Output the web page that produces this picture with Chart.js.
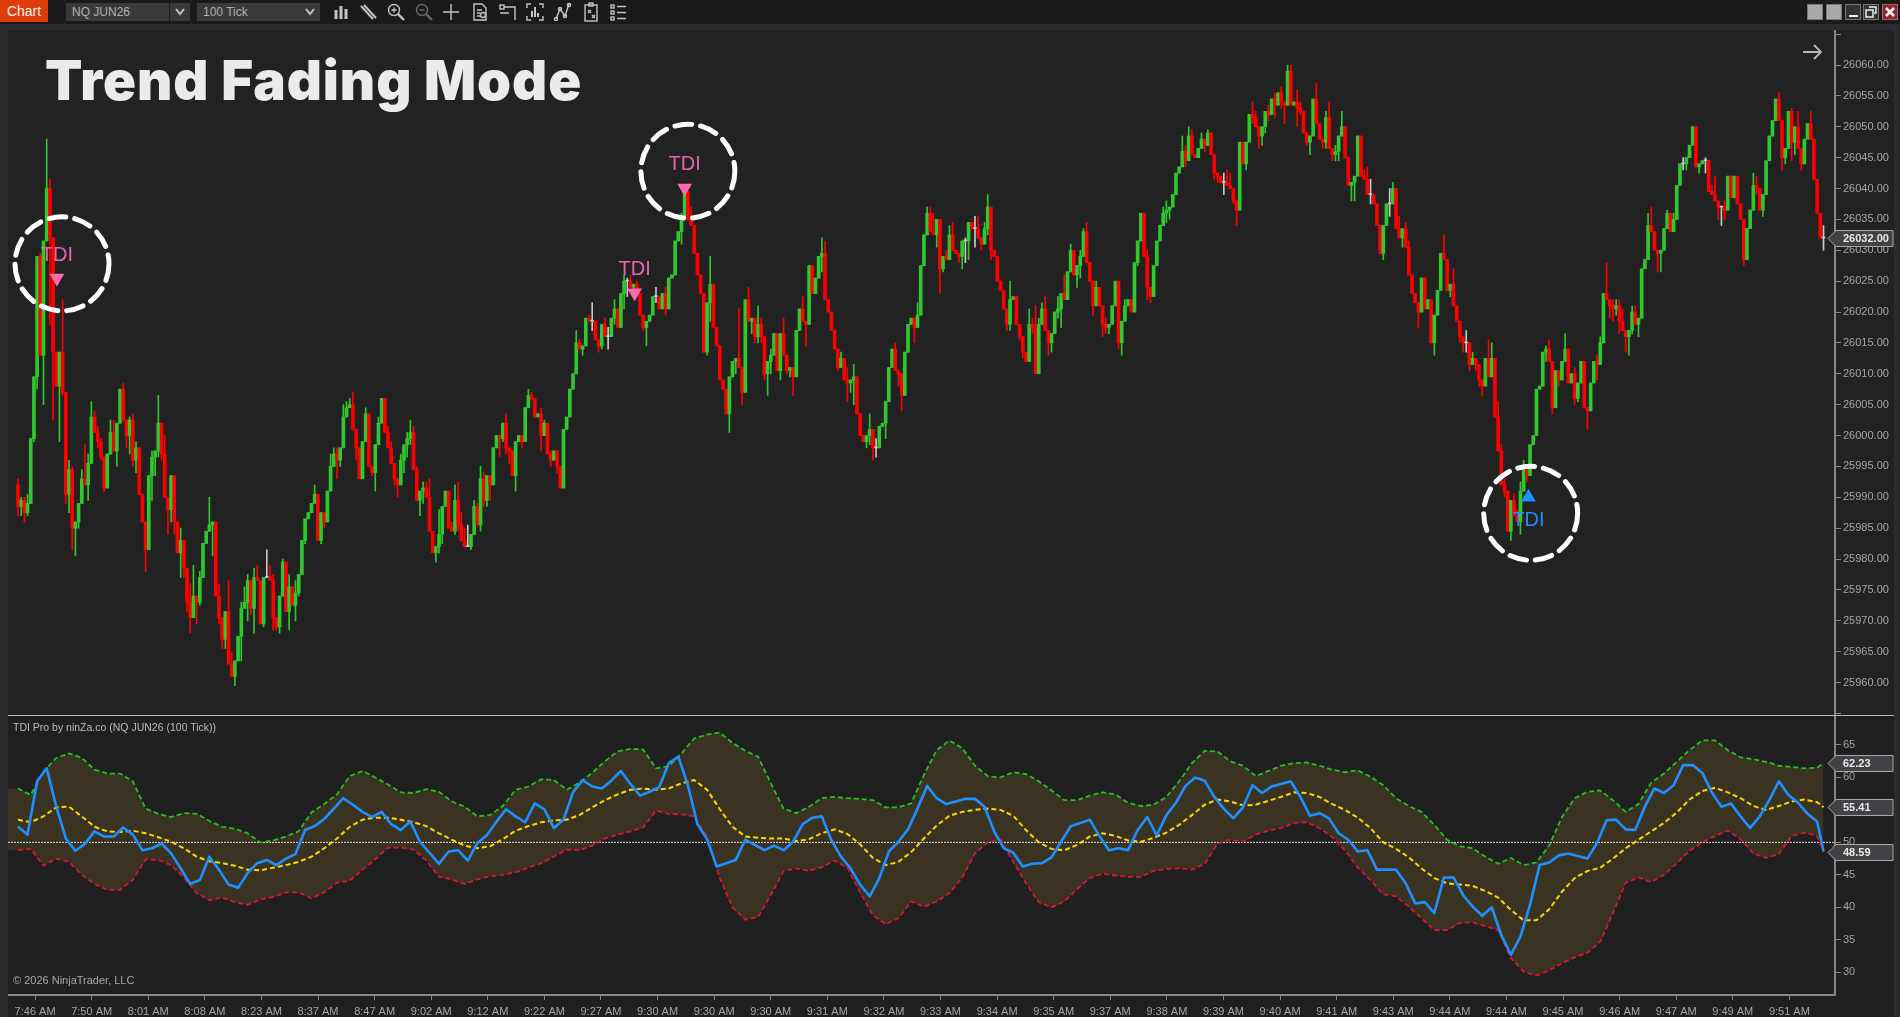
<!DOCTYPE html>
<html>
<head>
<meta charset="utf-8">
<title>Trend Fading Mode</title>
<script src="https://cdn.jsdelivr.net/npm/chart.js@4/dist/chart.umd.js"></script>
<style>
  html, body { margin: 0; padding: 0; background: #1c1c1c; overflow: hidden; }
  body { width: 1900px; height: 1017px; position: relative; font-family: "Liberation Sans", Arial, sans-serif; }
  canvas { position: absolute; display: block; }
  .abs { position: absolute; }
  #strip { left: 0; top: 0; width: 1900px; height: 24px; background: #1a1a1a; }
  #bevel { left: 0; top: 24px; width: 1900px; height: 993px; background: #2c2c2e; }
  #frame { left: 8px; top: 30px; width: 1886px; height: 987px; background: #222222; }
  #lower { left: 8px; top: 716px; width: 1886px; height: 301px; background: #202020; }
  #sep { left: 8px; top: 715px; width: 1886px; height: 1px; background: #b4b4b4; }
  #btn { left: 0; top: 0; width: 48px; height: 22px; background: #e03c08; color: #f4f4f4; font-size: 14px; line-height: 23px; text-align: center; }
  .drop { top: 3px; height: 18px; background: #3a3a3c; color: #b0b0b0; font-size: 12px; line-height: 19px; padding-left: 6px; box-sizing: border-box; }
  .chev { top: 3px; height: 18px; }
  .win { top: 4px; width: 16px; height: 16px; box-sizing: border-box; border: 1px solid #777; }
  #title { left: 45px; top: 45px; color: #ebebeb; font: 900 54.5px/70px Inter, sans-serif; white-space: nowrap; letter-spacing: 0.9px; }
  #legend { left: 13px; top: 721px; color: #bcbcbc; font-size: 10.5px; line-height: 12px; white-space: nowrap; }
  #copy { left: 13px; top: 974px; color: #a8a8a8; font-size: 11px; line-height: 13px; white-space: nowrap; }
  svg.ic { position: absolute; top: 2px; width: 20px; height: 20px; fill: none; stroke: #c4c4c4; stroke-width: 1.4; }
</style>
</head>
<body>
<div class="abs" id="strip"></div>
<div class="abs" id="bevel"></div>
<div class="abs" id="frame"></div>
<div class="abs" id="lower"></div>
<div class="abs" id="btn">Chart</div>
<div class="abs drop" style="left:66px;width:103px">NQ JUN26</div>
<div class="abs drop" style="left:170px;width:20px"></div>
<svg class="abs chev" style="left:170px;width:20px" viewBox="0 0 20 18"><path d="M6 6l4 5 4-5" fill="none" stroke="#c4c4c4" stroke-width="2"/></svg>
<div class="abs drop" style="left:197px;width:123px">100 Tick</div>
<svg class="abs chev" style="left:300px;width:20px" viewBox="0 0 20 18"><path d="M6 6l4 5 4-5" fill="none" stroke="#c4c4c4" stroke-width="2"/></svg>

<!-- toolbar icons -->
<svg class="ic" style="left:331px" viewBox="0 0 20 20"><path d="M5 8v9M10 4v13M15 7v10" stroke-width="3"/></svg>
<svg class="ic" style="left:358px" viewBox="0 0 20 20"><path d="M3 4l12 13M6 3l12 13" stroke-width="2"/></svg>
<svg class="ic" style="left:386px" viewBox="0 0 20 20"><circle cx="8" cy="8" r="5.5"/><path d="M12 12l6 6" stroke-width="2.4"/><path d="M5.5 8h5M8 5.5v5"/></svg>
<svg class="ic" style="left:414px;stroke:#6a6a6a" viewBox="0 0 20 20"><circle cx="8" cy="8" r="5.5"/><path d="M12 12l6 6" stroke-width="2.4"/><path d="M5.5 8h5"/></svg>
<svg class="ic" style="left:441px" viewBox="0 0 20 20"><path d="M10 2v16M2 10h16"/></svg>
<svg class="ic" style="left:470px" viewBox="0 0 20 20"><path d="M4 2h8l4 4v12H4zM7 8h5M7 11h3M7 14h3"/><circle cx="13" cy="13" r="2.5"/></svg>
<svg class="ic" style="left:497px" viewBox="0 0 20 20"><rect x="3" y="3" width="4" height="4"/><path d="M7 5h11v13M3 11h9"/></svg>
<svg class="ic" style="left:525px" viewBox="0 0 20 20"><path d="M2 6V2h4M14 2h4v4M2 14v4h4M14 18h4v-4"/><path d="M7 15V9M10 15V5M13 15v-4" stroke-width="2"/></svg>
<svg class="ic" style="left:552px" viewBox="0 0 20 20"><path d="M4 17L8 7l5 7 4-12"/><circle cx="4" cy="17" r="1.6"/><circle cx="8" cy="7" r="1.6"/><circle cx="13" cy="14" r="1.6"/><circle cx="17" cy="3" r="1.6"/></svg>
<svg class="ic" style="left:581px" viewBox="0 0 20 20"><rect x="4" y="3" width="12" height="16"/><rect x="8" y="1" width="4" height="3"/><path d="M7 8l3 3M10 8l-3 3M11 13l3 3M14 13l-3 3"/></svg>
<svg class="ic" style="left:608px" viewBox="0 0 20 20"><rect x="3" y="3" width="3" height="3"/><rect x="3" y="9" width="3" height="3"/><rect x="3" y="15" width="3" height="3"/><path d="M9 4.5h9M9 10.5h9M9 16.5h9"/></svg>

<!-- window buttons -->
<div class="abs win" style="left:1807px;background:#a8a8a8"></div>
<div class="abs win" style="left:1826px;background:#a8a8a8"></div>
<div class="abs win" style="left:1845px;background:#333"><div class="abs" style="left:3px;top:10px;width:9px;height:2px;background:#eee"></div></div>
<div class="abs win" style="left:1863px;background:#333"><svg class="abs" style="left:1px;top:1px;width:12px;height:12px" viewBox="0 0 12 12"><path d="M4 1h7v6H9M1 4h7v7H1z" fill="none" stroke="#eee" stroke-width="1.5"/></svg></div>
<div class="abs win" style="left:1882px;background:#a02030"><svg class="abs" style="left:1px;top:1px;width:12px;height:12px" viewBox="0 0 12 12"><path d="M2 2l8 8M10 2l-8 8" fill="none" stroke="#f4f4f4" stroke-width="2.6"/></svg></div>

<canvas id="priceChart" width="1886" height="685" style="left:8px;top:30px"></canvas>
<canvas id="tdiChart" width="1886" height="301" style="left:8px;top:716px"></canvas>
<div class="abs" id="sep"></div>

<svg class="abs" style="left:1802px;top:42px;width:21px;height:20px" viewBox="0 0 21 20"><path d="M1 10h18M12 3l7 7-7 7" fill="none" stroke="#b8b8b8" stroke-width="1.8"/></svg>
<div class="abs" id="title">Trend Fading Mode</div>
<div class="abs" id="legend">TDI Pro by ninZa.co (NQ JUN26 (100 Tick))</div>
<div class="abs" id="copy">© 2026 NinjaTrader, LLC</div>

<script>
/* Candles: open of a bar = close of the bar before it */
const firstOpen = 25992;
const closes = [
  25988.5,25989.5,25987.5,25989,25999.5,26009.5,26029,26013,26031.5,26040,
  26032,26013.5,26008,26013.5,26007,25990.5,25994.5,25985,25986,25989,
  25993,25992,25995.5,26003,26000.5,25999,25996.5,25991.5,25997,26000.5,
  25997.5,26002,26007.5,26002.5,26000,26002.5,25996,25998,25990.5,25986,
  25981.5,25993.5,25996.5,25997.5,26002,25997,25990,25988,25993.5,25986,
  25981,25983,25978.5,25973,25970.5,25974,25973,25977,
  25982.5,25984.5,25985.5,25986,25974,25970.5,25967,25971.5,25963,
  25961,25963.5,25967.5,25972,25973,25976.5,25972,25977,25976.5,25969.5,
  25977,25977,25976.5,25970.5,25969,25974,25979.5,25971.5,25975.5,25972.5,
  25974.5,25977.5,25983,25986.5,25987.5,25989,25990.5,25983,25987.5,25986,
  25991,25995,25997,25996,25998,26003,26004.5,26005,26001,25998,
  25993,25999,26003.5,25995,25994,25998.5,26002,26006,26000.5,25998,
  25995.5,25993,25992,25996,25998.5,25999.5,26000.5,25994.5,25989.5,25991,
  25991.5,25990,25984.5,25981,25982,25984,25988.5,25991,25985,25984.5,
  25989.5,25985.5,25983,25982,25982,25984,25988.5,25985.5,25993,25989.5,
  25993.5,25992,25998,26000,25999.5,26002,25998,25997.5,25993.5,25999,
  26000,25999,26004.5,26006.5,26006,26003,26003.5,26000,26002,25997,
  25996,25997.5,25995,
  25991.5,26001,26003,26007.5,26010,26015,26014,26014.5,26019,26018.5,
  26018.5,26015.5,26014.5,26018,26016,26016,26019,26020.5,26017.5,26023,
  26025,26025,26024,26024.5,26023,26019.5,26017.5,26018.5,26019.5,26022.5,
  26022.5,26020.5,26023,26020.5,26025.5,26026,26031.5,26033,26035.5,26039.5,
  26035,26034,26029.5,26026,26023,26013.5,26021.5,26024.5,26017.5,26014.5,
  26009,26007.5,26003.5,26009.5,26012,26012.5,26011,26007,26022,26018.5,
  26019,26016,26018,26016,26010,26012,26013,26016.5,26010.5,26016.5,
  26013,26010.5,26011,26009.5,26017,26020.5,26018.5,26018,26027.5,26023,
  26025.5,26029,26029.5,26022,26020,26017,26014,26011,26012.5,26009,
  26008.5,26009,26009.5,26003.5,26000,25999,26000,26001,25998,25998,
  26001.5,26002,26005.5,26011,26014,26010.5,26010,26006.5,26013.5,26018,
  26019,26017.5,26019.5,26027.5,26032.5,26036,26033,26032.5,26035,26027,
  26029,26028.5,26032.5,26030,26029.5,26029,26031.5,26031.5,26034.5,26033.5,
  26033.5,26032,26031,26033.5,26037,26030,26029,26025,26023.5,26020.5,
  26018,26022,26022.5,26018,26016,26013.5,26012,26018,26017.5,26010,
  26018,26020.5,26017,26015,26016.5,26020,26020.5,26023,26022,26026.5,
  26030,26026,26027.5,26029,26033,26028,26025,26021,26024,26021,
  26018,26017.5,26018,26021,26025,26015,26018.5,26021,26022,26020,
  26028,26031.5,26036,26029,26024,26022.5,26027.5,26031.5,26034,26036,
  26036.5,26037,26039,26042.5,26043.5,26046,26044.5,26048.5,26045.5,26045,
  26046.5,26048,26047,
  26049,26045.5,26042.5,26042,26041,26041,26040.5,26040,26038,26036.5,
  26047.5,26044,26047.5,26052,26051.5,26050,26048.5,26050,26052.5,26052,
  26054.5,26053.5,26055.5,26054,26053.5,26059,26053.5,26054,26053,26052.5,
  26049,26047.5,26048.5,26054.5,26050.5,26048,26047.5,26051.5,26046.5,26045.5,
  26046,26048.5,26050,26045,26040.5,26041,26042,26048.5,26042,
  26041.5,26039,26039,26037.5,26034,26029.5,26034,26037.5,26037.5,26040,
  26033.5,26032,26033.5,26030.5,26026,26023,26021.5,26020,26025.5,
  26020.5,26022,26015,26019.5,26023.5,26029.5,26028.5,26023.5,26024.5,26021,
  26018.5,26016,26015,26015,26011.5,26012.5,26011.5,26009,26008,
  26012.5,26009.5,26012.5,26003,25997.5,25992,25991,25984.5,25989.5,25987,
  25986,25991,25994.5,25993.5,25998.5,26000,26007.5,26008,26013.5,26014,
  26012,26004.5,26010.5,26009,26012,26014,26008.5,26010,26006,26008.5,
  26012,26004.5,26004,26008.5,26012,26011.5,26015,26023,26022,26021,
  26020.5,26021,26018.5,26017,26016,26017,26020,26018,26019,26027,
  26028.5,26034,26033,26030,26029.5,26030,26033.5,26036,26033,26035,
  26040.5,26044,26044,26045,26047,26050,26043.5,26044,26044.5,26044.5,
  26039.5,26039,26038,26037,26037,26036.5,26042,26038.5,26042,26037.5,
  26035,26028.5,26033.5,26036.5,26040.5,26040,26036.5,26039,26044.5,26048.5,
  26051,26054.5,26051,26045,26046.5,26052.5,26047.5,26050,26046.5,26044,
  26048,26050.5,26048,26041.5,26036,26032,26032
];
/* wick length above the body, in points */
const upperWicks = [
  1,.5,.5,1.5,0,0,0,.5,0,8,
  1.5,0,0,0,8.5,0,1.5,.5,0,0,
  1.5,5.5,1.5,2.5,1,1,.5,0,0,2,
  2,0,0,1,0,.5,1,1,0,0,
  0,0,1,0,4.5,0,3,0,0,0,
  0,2,0,0,3,5,0,1,
  0,0,4.5,0,0,2,0,0,5,
  2,0,0,1,2.5,1,0,1.5,2,0,
  0,4.5,2,1,0,0,.5,0,2,0,
  2,0,0,0,0,0,1.5,0,0,0,
  0,2,1,1,0,2,1,1,2,0,
  0,0,1,0,0,0,1,0,0,1,
  1,0,0,1,0,1,2,1,.5,0,
  1,1,3,0,0,4,0,0,0,1,
  2.5,3,2,2,3.5,0,1,.5,2,1,
  0,0,0,0,0,0,1.5,0,0,0,
  0,0,0,1,.5,0,0,1,.5,0,
  .5,0,0,
  0,0,0,0,0,2,.5,0,0,.5,
  3,0,0,0,1,1.5,0,1.5,0,0,
  1,.5,1,0,.5,0,0,0,0,0,
  1.5,0,0,1,0,0,0,0,.5,0,
  0,2,0,0,0,0,0,4.5,0,0,
  0,0,0,0,0,0,8,0,0,2,
  0,0,3,1,0,0,1,0,0,0,
  2.5,0,0,0,0,0,2,0,0,0,
  0,0,2.5,2,0,0,0,0,1,0,
  2,0,2,0,0,0,0,2.5,0,1.5,
  0,0,0,0,0,1,0,0,0,0,
  0,0,2,0,0,1,1,3,0,0,
  0,1,1.5,2,0,0,0,.5,0,0,
  2,2,0,1,2,0,0,0,0,0,
  0,3,0,0,0,0,0,2.5,1,3.5,
  1,1,2,0,0,0,2,0,3,0,
  1,0,0,1,.5,1.5,0,0,1,0,
  0,1,0,0,0,0,0,1,0,0,
  0,0,0,0,1,0,0,0,0,1,
  1.5,0,0,0,0,2.5,1,1.5,1,0,
  0,1,0,
  .5,0,0,0,0,1.5,2,2,0,0,
  0,0,0,0,2,1,0,0,0,1,
  0,1,0,1,0,1,1,0,2,1,
  0,0,0,0,2.5,0,0,1,2.5,0,
  1,0,2.5,0,0,0,0,0,0,
  1,2,2.5,0,0,0,0,0,2.5,1,
  0,2,0,1,1,0,0,0,0,
  0,0,0,0,0,0,3,0,0,2.5,
  0,0,0,2,0,1,0,0,0,
  0,3,2.5,0,2.5,1,1,0,0,1,
  1,1.5,1.5,0,0,0,0,0,0,.5,
  1.5,0,0,0,0,2.5,0,0,1,0,
  0,0,0,0,0,1,1,0,5,0,
  1,1,1,2,0,0,1,1,0,0,
  0,2,3,0,0,0,0,.5,0,1,
  0,0,1,0,0,0,0,0,0,.5,
  0,1,3,0,0,1,0,0,0,0,
  0,0,0,0,2,1.5,0,0,0,0,
  0,0,1,0,0,0,.5,0,2.5,0,
  0,0,2,0,0,0,2
];
/* wick length below the body, in points */
const lowerWicks = [
  1.5,1.5,1.5,.5,0,.5,2,0,8,0,
  14,11,0,9,.5,1.5,3,3.5,4.5,1,
  0,0,2.5,0,0,1,.5,.5,0,0,
  0,2.5,0,0,2,3,1,2,0,0,
  3.5,0,4,3,1,1,0,4,2,2,
  0,4,1.5,1.5,2.5,0,3.5,.5,
  0,0,0,5,0,1,1.5,1.5,0,
  0,1.5,0,4,0,3,1,4,0,0,
  .5,0,0,2,.5,1,0,0,3,0,
  2.5,.5,0,.5,0,0,0,0,.5,1,
  0,0,0,3,1,0,0,0,0,2,
  0,0,0,0,.5,3,0,0,0,0,
  0,1,2,0,2,2,1,0,0,2.5,
  2,0,0,0,1.5,1,1.5,0,0,0,
  .5,1,0,0,0,.5,0,0,1,1,
  1,2.5,0,0,3,.5,1,2,0,2.5,
  0,1,0,0,0,0,0,2.5,0,0,
  1,0,1,
  0,0,0,0,0,0,0,1,0,0,
  1.5,0,1,.5,0,2,0,1,0,0,
  2.5,2.5,0,1,0,0,.5,3,0,0,
  1,0,0,1,0,0,0,0,2,0,
  0,0,0,0,0,0,.5,3,0,0,
  0,0,0,3,0,2,0,2,0,0,
  2,1,1,1,1,3.5,2,0,0,1.5,
  0,.5,1,3,0,0,0,3.5,0,0,
  0,0,2.5,0,0,0,0,.5,0,0,
  3,1.5,4,0,0,0,1,1.5,2,1.5,
  0,0,2.5,0,0,0,2,2.5,0,0,
  0,2.5,0,0,0,0,0,0,2,4,
  .5,0,0,0,0,1,2,3.5,3,0,
  3,0,1,0,1,1.5,0,0,0,0,
  1,1,0,0,.5,1,0,0,1,0,
  0,0,0,2,1.5,0,1,3,0,0,
  0,0,2,2,0,0,0,1.5,0,0,
  2,1,1,0,0,1,2,0,0,0,
  0,.5,0,0,2,1,0,0,0,0,
  1.5,1.5,0,0,0,0,1,0,0,0,
  0,0,1,
  0,0,1,1,0,2,0,0,.5,2.5,
  0,0,1,0,1,0,2,1.5,1,1,
  0,2,0,1,3,0,0,0,3,.5,
  0,.5,2,0,0,0,1,1,0,1,
  1,1.5,0,0,0,2.5,3,0,0,
  0,0,1.5,0,0,0,1,0,2,0,
  0,0,1.5,0,0,0,0,2.5,0,
  0,0,0,2,0,0,0,0,1,0,
  0,1,1.5,1.5,1,0,1,1,1.5,
  0,0,0,0,0,0,1,0,1.5,0,
  0,2,0,1,0,0,0,0,0,1.5,
  0,1,0,1,0,0,0,0,1,.5,
  0,0,3,0,0,2.5,0,0,0,2,
  2,1,2,0,2.5,3,.5,0,2,0,
  0,0,0,0,3,3,0,0,0,0,
  0,0,1,1,0,0,0,1,0,2,
  0,0,0,2,3,1.5,0,0,0,0,
  0,1,0,0,0,1,0,1,0,0,
  0,0,0,2,1,0,3,2,0,1,
  0,0,0,0,0,0,2
];

/* TDI lines. Bands and signal are read every 4 bars, the TDI line every 3 */
const bandStep = 4;
const tdiStep = 3;
const upperBand = [
  58.3,57.3,60.9,63,63.7,63,61.2,60.6,60.6,59.4,
  55.2,54.4,53.9,54.5,54.4,53.3,52.4,52.1,51.4,50,
  50.3,50.9,51.7,54.6,55.9,57.4,60.2,61,60,58.9,
  57.7,57.6,58.2,57.8,56.3,55.5,54,54.2,55.6,58.1,
  58.6,59.7,59.6,58.1,59.2,60.7,62.5,64,64.4,
  64.3,61.4,61.7,63.7,66,66.6,66.9,65.3,64.1,63.2,
  59.1,55.2,54.5,55.5,56.8,57,56.8,56.7,56.5,55.4,
  55.4,56,60.4,64.2,65.7,64.5,61.8,60.2,60,60.8,
  60.5,59.4,58,56.5,56.5,57.2,57.7,57.4,56.1,55.6,
  55.8,57,59.4,62.2,64.1,64,62.5,61.8,60.2,61,
  61.8,62.2,62.3,61.8,61.2,60.8,61.1,60.1,58.8,56.8,
  55.6,54.7,52.7,50.4,49.4,49.1,47.8,46.7,47.6,46.5,
  46.9,49.5,53.9,56.8,57.8,58,56.5,54.7,55.9,59.2,
  60.6,62.4,64.2,65.7,65.7,64.2,63.1,62.8,62.4,61.8,
  61.6,61.4,61.5,62.23
];
const lowerBand = [
  48.8,49,46.4,47.5,47,45,43.6,42.7,42.7,44.2,
  47.4,47.3,46.5,44.6,42.2,41.1,41.5,40.8,40.4,41.2,
  41.6,42.3,42.3,41.4,42.3,43.8,44.1,45.8,47.4,49.2,
  49.2,48.9,47.2,44.7,44.3,43.6,44.3,44.8,45,45.4,
  46.1,46.8,47.8,48.9,48.8,49.5,50.6,51.2,51.7,
  52.3,54.9,54.4,54.3,54,50.9,44.5,40,38.1,38.5,
  41.9,45.6,46,45.6,46.2,47.2,46.1,42.3,38.8,37.4,
  38.3,40.9,40.1,40.9,42.2,44.6,48.3,50,50.4,47,
  43.7,40.8,40,40.9,42.8,44.5,45.2,44.9,44.7,44.7,
  45.6,45.9,46,45.8,46.7,49.8,50.4,50.1,51.2,51.8,
  52.2,53,53.1,52.2,50.8,48.8,46.1,44.2,42,41.7,
  40.1,38.3,36.5,36.5,37.6,37.7,37.1,36.5,32.2,30.1,
  29.5,30.3,31.4,32.3,33,34.7,39.1,43.8,44.6,43.9,
  45,46.8,48.7,50,51,51.8,50.5,48.3,47.6,48.2,
  51,51.5,51,48.59
];
const signalLine = [
  53.5,53.1,54,55.4,55.5,54,52.4,51.7,51.6,51.8,
  51.4,50.8,50.1,49.1,47.8,47.1,46.8,46.4,45.8,45.7,
  46.1,46.5,47,47.8,49.1,50.6,52.4,53.5,53.8,53.8,
  53.5,53.1,52.5,51.4,50.4,49.5,49.1,49.4,50.5,51.8,
  52.5,53.1,53.4,53.5,54.2,55.4,56.5,57.4,58.1,
  58.3,58.1,58.3,59.1,59.6,58.1,55.1,52.4,50.9,50.7,
  50.6,50.6,50.2,50.5,51.4,52,51.3,49.7,47.6,46.5,
  47,48.5,50.6,52.6,54.1,54.7,55,55.2,55,54.1,
  51.9,50,49,48.8,49.6,50.9,51.4,51,50.3,50.1,
  50.7,51.5,52.7,54.2,55.8,56.6,56.3,55.7,55.8,56.4,
  57,57.7,57.6,57,55.9,55,53.8,52.2,50,49,
  47.7,46,44.5,43.7,43.5,43.3,42.5,41.5,39.6,38,
  38,39.7,42.4,44.5,45.6,46.1,47.5,49.1,50.4,51.7,
  53,54.6,56.6,57.9,58.4,57.7,56.8,55.6,55,55.6,
  56.3,56.6,56.2,55.41
];
const tdiLine = [
  52.4,51.2,59.4,61.4,55.5,50.6,48.7,49.8,51.7,50.9,
  50.9,52.3,51.2,48.8,49.1,49.8,48.3,46,43.6,44.2,
  47.8,45.8,43.5,43,45.3,46.8,47.3,46.5,47.5,48.2,
  51.9,52.5,53.6,55.2,56.8,55.8,54.7,53.9,54.7,52.8,
  51.9,53.2,50.1,48.4,46.7,48.6,48.8,47.2,49.9,51.1,
  53.2,55.1,54,53.1,56,55.1,52.2,53.5,57.7,59.6,
  58.6,58.3,59.5,61,59,57.2,
  57.8,58.5,62.2,63.2,58.8,52.8,50.5,46.3,46.8,47.3,
  50.4,49.6,48.8,49.5,48.8,50.1,52.8,53.8,54,50.3,
  47.8,46,43.5,41.7,44.5,48.6,50.1,52,55.2,58.7,
  56.8,55.9,56.3,56.7,56.7,55.5,51.7,49.1,48.4,46.3,
  46.7,46.8,47.7,50.1,52.5,53,53.5,51,48.8,49.1,
  48.8,51.9,53.9,51.1,54.2,56.1,58.7,60,59.5,57,
  55.2,53.7,55.4,58.8,57.6,58.6,
  59,59.4,57,54.1,54.5,53.7,51.4,50.4,48.6,48.8,
  45.8,45.8,45.8,43.7,40.6,40.8,39.1,44.6,44.6,41.9,
  40.1,38.7,40,35.7,32.7,35.5,40.4,46.5,46.9,48,
  48.3,47.9,47.5,49.9,53.4,53.5,52,51.9,55.5,58.3,
  57.6,58.8,61.9,61.9,60.7,57.7,55.5,56,54,52.2,
  54,56.5,59.4,57.3,56.1,54.4,53.2,48.59
];
const levelLine = 50;

const timeLabels = ['7:46 AM','7:50 AM','8:01 AM','8:08 AM','8:23 AM','8:37 AM','8:47 AM','9:02 AM','9:12 AM','9:22 AM','9:27 AM',
  '9:30 AM','9:30 AM','9:30 AM','9:31 AM','9:32 AM','9:33 AM','9:34 AM','9:35 AM','9:37 AM','9:38 AM','9:39 AM','9:40 AM',
  '9:41 AM','9:43 AM','9:44 AM','9:44 AM','9:45 AM','9:46 AM','9:47 AM','9:49 AM','9:51 AM'];
const priceTicks = [26065,26060,26055,26050,26045,26040,26035,26030,26025,26020,26015,26010,26005,26000,25995,25990,25985,25980,25975,25970,25965,25960,25955];
const tdiTicks = [65,60,55,50,45,40,35,30];

/* TDI signals on the price panel */
const signalBars = [12.2, 193.3, 209, 473.5];
const signalPrices = [26025.5, 26023.1, 26040.1, 25990];
const signalSells = [true, true, true, false];
const circleBars = [13.8, 210, 474.2];
const circlePrices = [26027.8, 26042.8, 25987.4];

const GREEN = '#2fc92f', RED = '#ff0000', DOJI = '#c8c8c8';
const AXIS = '#888888', LABEL = '#a6a6a6';
const lastBar = closes.length - 1;
const xMin = -3.13, xMax = 569.6;
const yAxisWidth = 59;

Chart.defaults.font.family = '"Liberation Sans", Arial, sans-serif';
Chart.defaults.font.size = 11;
Chart.defaults.animation = false;
Chart.defaults.devicePixelRatio = 1;

const opens = closes.map((c, i) => i ? closes[i - 1] : firstOpen);
const candleColor = closes.map((c, i) => c > opens[i] ? GREEN : c < opens[i] ? RED : DOJI);
const bodies = closes.map((c, i) => ({ x: i, y: [Math.min(opens[i], c), Math.max(opens[i], c)] }));
const wicks = closes.map((c, i) => ({
  x: i,
  y: [Math.min(opens[i], c) - (lowerWicks[i] || 0), Math.max(opens[i], c) + (upperWicks[i] || 0)]
}));

/* the little flag at the right edge holding a current value */
function drawBadge(chart, value, text) {
  const ctx = chart.ctx;
  const y = Math.round(chart.scales.y.getPixelForValue(value)) + 0.5;
  const left = chart.chartArea.right - 7, neck = left + 8, right = chart.width - 1;
  ctx.save();
  ctx.beginPath();
  ctx.moveTo(left, y);
  ctx.lineTo(neck, y - 8);
  ctx.lineTo(right, y - 8);
  ctx.lineTo(right, y + 8);
  ctx.lineTo(neck, y + 8);
  ctx.closePath();
  ctx.fillStyle = '#414146';
  ctx.fill();
  ctx.strokeStyle = '#a8a8a8';
  ctx.lineWidth = 1;
  ctx.stroke();
  ctx.fillStyle = '#e8e8e8';
  ctx.font = 'bold 11px "Liberation Sans", Arial, sans-serif';
  ctx.textBaseline = 'middle';
  ctx.textAlign = 'left';
  ctx.fillText(text, chart.chartArea.right + 8, y + 0.5);
  ctx.restore();
}

const priceOverlay = {
  id: 'priceOverlay',
  afterDraw(chart) {
    const { ctx, scales: { x, y } } = chart;
    ctx.save();
    // dashed rings
    ctx.strokeStyle = '#ffffff';
    ctx.lineWidth = 5;
    ctx.lineCap = 'round';
    ctx.setLineDash([17, 9]);
    circleBars.forEach((b, i) => {
      ctx.beginPath();
      ctx.arc(x.getPixelForValue(b), y.getPixelForValue(circlePrices[i]), 47, 0, Math.PI * 2);
      ctx.stroke();
    });
    ctx.setLineDash([]);
    // signal captions
    ctx.font = '20px "Liberation Sans", Arial, sans-serif';
    ctx.textAlign = 'center';
    ctx.textBaseline = 'middle';
    signalBars.forEach((b, i) => {
      const py = y.getPixelForValue(signalPrices[i]);
      ctx.fillStyle = signalSells[i] ? '#e766ab' : '#1e90ff';
      ctx.fillText('TDI', x.getPixelForValue(b), py + (signalSells[i] ? -23 : 23));
    });
    ctx.restore();
    drawBadge(chart, closes[lastBar], closes[lastBar].toFixed(2));
  }
};

const tdiOverlay = {
  id: 'tdiOverlay',
  afterDraw(chart) {
    const last = arr => arr[arr.length - 1];
    drawBadge(chart, last(upperBand), last(upperBand).toFixed(2));
    drawBadge(chart, last(signalLine), last(signalLine).toFixed(2));
    drawBadge(chart, last(tdiLine), last(tdiLine).toFixed(2));
  }
};

/* no room kept for overhanging first and last labels: the plot fills its canvas */
const noPadding = s => { s.paddingTop = s.paddingBottom = s.paddingLeft = s.paddingRight = 0; };

const rightAxis = (tickValues, format) => ({
  position: 'right',
  afterFit: s => { s.width = yAxisWidth; noPadding(s); },
  afterBuildTicks: s => { s.ticks = tickValues.map(value => ({ value })); },
  border: { color: AXIS, width: 2 },
  grid: { drawOnChartArea: false, color: AXIS, tickLength: 6 },
  ticks: { color: LABEL, padding: 2, autoSkip: false, callback: format }
});

new Chart(document.getElementById('priceChart'), {
  type: 'bar',
  plugins: [priceOverlay],
  data: {
    datasets: [
      {
        type: 'scatter',
        data: signalBars.map((b, i) => ({ x: b, y: signalPrices[i] })),
        pointStyle: 'triangle',
        pointRadius: 8.5,
        pointRotation: signalSells.map(s => s ? 180 : 0),
        pointBackgroundColor: signalSells.map(s => s ? '#ff69b4' : '#1e90ff'),
        pointBorderWidth: 0
      },
      { data: bodies, backgroundColor: candleColor, barThickness: 3, minBarLength: 1, grouped: false },
      { data: wicks, backgroundColor: candleColor, barThickness: 1, grouped: false }
    ]
  },
  options: {
    responsive: false,
    layout: { padding: 0, autoPadding: false },
    plugins: { legend: { display: false }, tooltip: { enabled: false } },
    scales: {
      x: { type: 'linear', min: xMin, max: xMax, offset: false, display: false },
      y: Object.assign(rightAxis(priceTicks, v => (v >= 26065 || v <= 25955) ? '' : v.toFixed(2)), {
        min: 25954.74, max: 26065.67
      })
    }
  }
});

const bandPoints = arr => arr.map((v, i) => ({ x: Math.min(i * bandStep, lastBar), y: v }));
const tdiPoints = tdiLine.map((v, i) => ({ x: Math.min(i * tdiStep, lastBar), y: v }));
// the shaded channel starts at the panel edge, ahead of the first bar
const shaded = arr => [{ x: xMin, y: arr[0] }].concat(bandPoints(arr));
const dashed = (data, color, width) => ({
  data, borderColor: color, borderWidth: width, borderDash: [5, 3], pointRadius: 0, tension: 0, fill: false
});

new Chart(document.getElementById('tdiChart'), {
  type: 'line',
  plugins: [tdiOverlay],
  data: {
    datasets: [
      { data: tdiPoints, borderColor: '#1e90ff', borderWidth: 2.6, pointRadius: 0, tension: 0, fill: false, borderJoinStyle: 'round' },
      dashed(bandPoints(signalLine), '#ffd700', 2),
      dashed(bandPoints(upperBand), '#22c322', 1.8),
      dashed(bandPoints(lowerBand), '#dc143c', 1.8),
      { data: [{ x: xMin, y: levelLine }, { x: xMax, y: levelLine }], borderColor: '#dcdcdc', borderWidth: 1, borderDash: [2, 1], pointRadius: 0, fill: false },
      { data: shaded(upperBand), borderWidth: 0, pointRadius: 0, tension: 0, fill: '+1', backgroundColor: '#3a3322' },
      { data: shaded(lowerBand), borderWidth: 0, pointRadius: 0, tension: 0, fill: false }
    ]
  },
  options: {
    responsive: false,
    layout: { padding: 0, autoPadding: false },
    plugins: { legend: { display: false }, tooltip: { enabled: false } },
    scales: {
      x: {
        type: 'linear',
        min: xMin,
        max: xMax,
        offset: false,
        afterFit: s => { s.height = 22; noPadding(s); },
        afterBuildTicks: s => { s.ticks = timeLabels.map((t, k) => ({ value: 5.36 + 17.74 * k })); },
        border: { color: AXIS, width: 2 },
        grid: { drawOnChartArea: false, color: AXIS, tickLength: 5 },
        ticks: { color: LABEL, autoSkip: false, maxRotation: 0, padding: 5, callback: (v, i) => timeLabels[i] }
      },
      y: Object.assign(rightAxis(tdiTicks, v => String(v)), { min: 26.5, max: 69.46 })
    }
  }
});
</script>
</body>
</html>
